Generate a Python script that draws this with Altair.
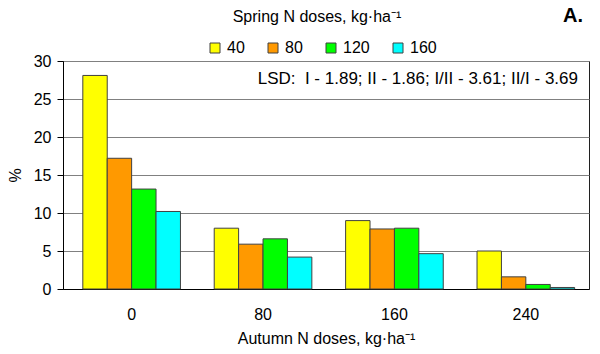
import altair as alt
import pandas as pd

autumn = ["0", "80", "160", "240"]
spring = ["40", "80", "120", "160"]
vals_40 = [28.1, 8.0, 9.0, 5.0]
vals_80 = [17.2, 5.9, 7.9, 1.6]
vals_120 = [13.15, 6.6, 8.0, 0.6]
vals_160 = [10.2, 4.2, 4.65, 0.2]
colors = ["#FFFF00", "#FF9900", "#00FF00", "#00FFFF"]

rows = []
for s, vals in zip(spring, [vals_40, vals_80, vals_120, vals_160]):
    for a, v in zip(autumn, vals):
        rows.append({"autumn": a, "spring": s, "value": v})
df = pd.DataFrame(rows)

FONT = "Liberation Sans"
FS = 16

bars = alt.Chart(df).mark_bar(stroke="#404040", strokeWidth=1).encode(
    x=alt.X("autumn:N", sort=autumn,
            scale=alt.Scale(paddingInner=0.257, paddingOuter=0.13, align=0.58),
            axis=alt.Axis(title="Autumn N doses, kg·ha⁻¹", labelAngle=0, ticks=False,
                          labelPadding=17, labelFontSize=FS, titleFontSize=FS,
                          titleFontWeight="normal", titleY=49, titleBaseline="middle",
                          domainColor="black", labelColor="black", titleColor="black",
                          labelFont=FONT, titleFont=FONT, grid=False)),
    xOffset=alt.XOffset("spring:N", sort=spring, scale=alt.Scale(paddingInner=0, paddingOuter=0)),
    y=alt.Y("value:Q", scale=alt.Scale(domain=[0, 30], nice=False),
            axis=alt.Axis(title="%", values=[0, 5, 10, 15, 20, 25, 30], tickSize=6,
                          labelFontSize=FS, titleFontSize=FS, titleFontWeight="normal",
                          titleAngle=-90, titleX=-48, titleY=114, titleBaseline="middle",
                          titleAlign="center",
                          domainColor="black", tickColor="black", labelColor="black",
                          titleColor="black", labelFont=FONT, titleFont=FONT,
                          gridColor="#808080", gridWidth=1, labelPadding=6)),
    color=alt.Color("spring:N", sort=spring,
                    scale=alt.Scale(domain=spring, range=colors),
                    legend=alt.Legend(title=None, orient="none", direction="horizontal",
                                      legendX=144, legendY=-21, symbolType="square",
                                      symbolSize=100, symbolStrokeColor="#404040",
                                      symbolStrokeWidth=1, labelFontSize=FS, labelFont=FONT,
                                      labelColor="black", columnPadding=20, labelOffset=4)),
)

texts = pd.DataFrame({"t": ["Spring N doses, kg·ha⁻¹"]})
title_txt = alt.Chart(texts).mark_text(fontSize=FS, font=FONT, color="black",
                                       align="center", baseline="middle").encode(
    text="t:N", x=alt.value(254), y=alt.value(-44))

a_df = pd.DataFrame({"t": ["A."]})
a_txt = alt.Chart(a_df).mark_text(fontSize=20, font=FONT, fontWeight="bold", color="black",
                                  align="center", baseline="middle").encode(
    text="t:N", x=alt.value(510), y=alt.value(-45))

lsd_df = pd.DataFrame({"t": ["LSD:\u00a0\u00a0I - 1.89; II - 1.86; I/II - 3.61; II/I - 3.69"]})
lsd_txt = alt.Chart(lsd_df).mark_text(fontSize=17, font=FONT, color="black",
                                      align="right", baseline="middle").encode(
    text="t:N", x=alt.value(515), y=alt.value(18))

chart = alt.layer(bars, title_txt, a_txt, lsd_txt).properties(
    width=526, height=228,
    background="white",
    autosize=alt.AutoSizeParams(type="none"),
    padding={"left": 63, "top": 61, "right": 11, "bottom": 65},
).configure_view(stroke="#202020", strokeWidth=1)

chart.save("out.html", embed_options={"renderer": "svg", "actions": False})
